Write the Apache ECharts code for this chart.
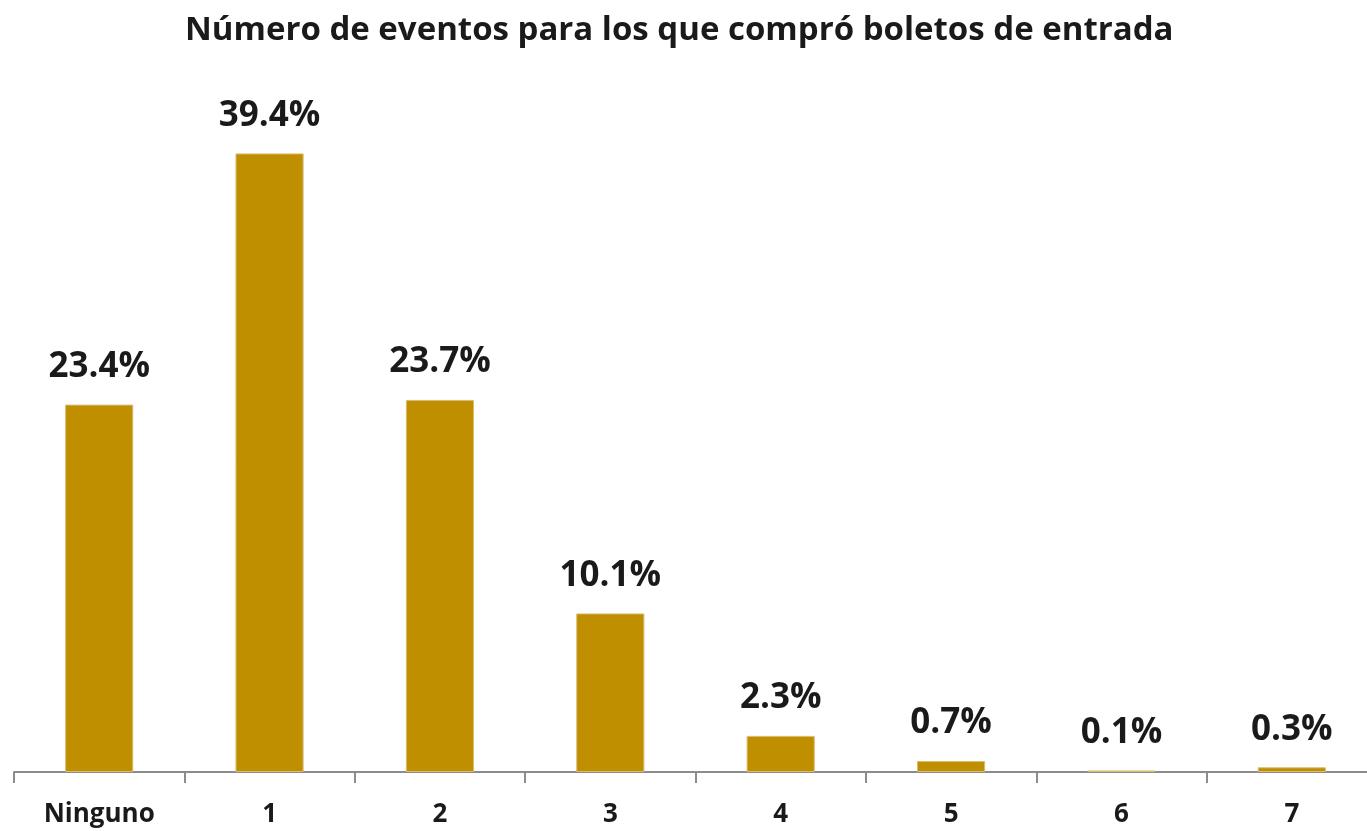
<!DOCTYPE html>
<html>
<head>
<meta charset="utf-8">
<script src="https://cdn.jsdelivr.net/npm/echarts@6/dist/echarts.min.js"></script>
<style>
  html, body { margin: 0; padding: 0; background: #fff; overflow: hidden; }
  /* el eje continúa un poco más allá del borde derecho, como en el original */
  #chart { width: 1377px; height: 831px; }
</style>
</head>
<body>
<div id="chart"></div>
<script>
// categorías y porcentajes
const categories = ['Ninguno', '1', '2', '3', '4', '5', '6', '7'];
const percents = [23.4, 39.4, 23.7, 10.1, 2.3, 0.7, 0.1, 0.3];

const chart = echarts.init(document.getElementById('chart'));

const option = {
  backgroundColor: '#ffffff',
  title: {
    text: 'Número de eventos para los que compró boletos de entrada',
    left: 180,
    top: 9,
    textStyle: {
      fontFamily: 'Open Sans',
      fontWeight: 'bold',
      fontSize: 33,
      color: '#1a1a1a'
    }
  },
  grid: {
    left: 14,
    right: 0,
    top: 144,
    bottom: 59
  },
  xAxis: {
    type: 'category',
    data: categories,
    axisLine: { lineStyle: { color: '#8c8c8c', width: 2 } },
    axisTick: { show: true, length: 11, lineStyle: { color: '#8c8c8c', width: 2 } },
    axisLabel: {
      margin: 30,
      fontFamily: 'Open Sans',
      fontWeight: 'bold',
      fontSize: 26,
      color: '#1a1a1a'
    }
  },
  yAxis: {
    type: 'value',
    min: 0,
    max: 40,
    show: false,
    splitLine: { show: false }
  },
  series: [{
    type: 'bar',
    data: percents,
    barWidth: '40%',
    itemStyle: {
      color: '#BF8F00',
      borderColor: '#d9bd73',
      borderWidth: 1
    },
    label: {
      show: true,
      position: 'top',
      distance: 20,
      formatter: (p) => p.value.toFixed(1) + '%',
      fontFamily: 'Open Sans',
      fontWeight: 'bold',
      fontSize: 35,
      color: '#1a1a1a'
    }
  }]
};

chart.setOption(option);
</script>
</body>
</html>
